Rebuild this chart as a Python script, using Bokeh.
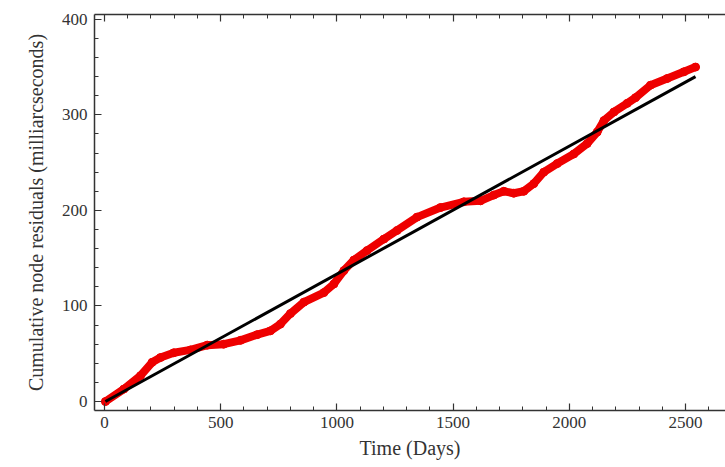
from bokeh.plotting import figure
from bokeh.models import LinearAxis, Range1d, FixedTicker
from bokeh.embed import file_html
from bokeh.resources import INLINE

# Cumulative node residuals (red)
days = [4, 83, 155, 205, 241, 298, 370, 442, 513, 585, 657, 714, 757, 800, 858,
        944, 987, 1030, 1073, 1130, 1202, 1259, 1345, 1446, 1546, 1618, 1675,
        1718, 1761, 1804, 1847, 1890, 1948, 2019, 2077, 2120, 2149, 2192, 2249,
        2285, 2349, 2421, 2493, 2543]
resid = [0, 13, 27, 41, 46, 51, 54, 59, 60, 64, 70, 74, 81, 92, 104,
         114, 123, 137, 148, 158, 170, 179, 193, 203, 209, 210, 216,
         220, 218, 220, 228, 240, 249, 259, 270, 282, 294, 303, 312,
         318, 331, 338, 345, 350]

# Linear fit (black)
fit_days = [4, 2543]
fit_vals = [0, 340]

x_ticks = [0, 500, 1000, 1500, 2000, 2500]
y_ticks = [0, 100, 200, 300, 400]

FONT = "Liberation Serif"
TXT = "#333333"

p = figure(width=725, height=467, output_backend="svg", toolbar_location=None,
           x_range=Range1d(-43, 2672), y_range=Range1d(-9.4, 405),
           min_border_left=94, min_border_top=14, min_border_bottom=57,
           min_border_right=0, x_axis_location=None, y_axis_location=None)
p.outline_line_color = None
p.grid.visible = False
p.background_fill_color = "white"
p.border_fill_color = "white"

p.line(days, resid, line_color="#ee0000", line_width=8, line_join="round", line_cap="round")
p.scatter(days, resid, size=8, color="#ee0000", marker="circle")
p.line(fit_days, fit_vals, line_color="black", line_width=3)


def style(ax, ticks, minor, labels=True):
    ax.ticker = FixedTicker(ticks=ticks, minor_ticks=minor)
    ax.axis_line_color = TXT
    ax.axis_line_width = 1.5
    ax.major_tick_line_color = TXT
    ax.minor_tick_line_color = TXT
    ax.major_tick_line_width = 1.2
    ax.minor_tick_line_width = 1.0
    ax.major_tick_in = 7
    ax.major_tick_out = 0
    ax.minor_tick_in = 4
    ax.minor_tick_out = 0
    ax.major_label_text_font = FONT
    ax.major_label_text_font_size = "17px"
    ax.major_label_text_color = TXT if labels else None
    ax.axis_label_text_font = FONT
    ax.axis_label_text_font_size = "20px"
    ax.axis_label_text_font_style = "normal"
    ax.axis_label_text_color = TXT


x_minor = list(range(-100, 2800, 100))
y_minor = list(range(-20, 420, 20))

bx = LinearAxis(axis_label="Time (Days)")
style(bx, x_ticks, x_minor)
bx.major_label_standoff = 6
bx.axis_label_standoff = 6
p.add_layout(bx, "below")

tx = LinearAxis()
style(tx, x_ticks, x_minor, labels=False)
tx.major_label_text_font_size = "0px"
tx.major_label_standoff = 0
p.add_layout(tx, "above")

ly = LinearAxis(axis_label="Cumulative node residuals (milliarcseconds)")
style(ly, y_ticks, y_minor)
ly.major_label_standoff = 7
ly.axis_label_standoff = 12
p.add_layout(ly, "left")

open("out.html", "w").write(file_html(p, INLINE))
